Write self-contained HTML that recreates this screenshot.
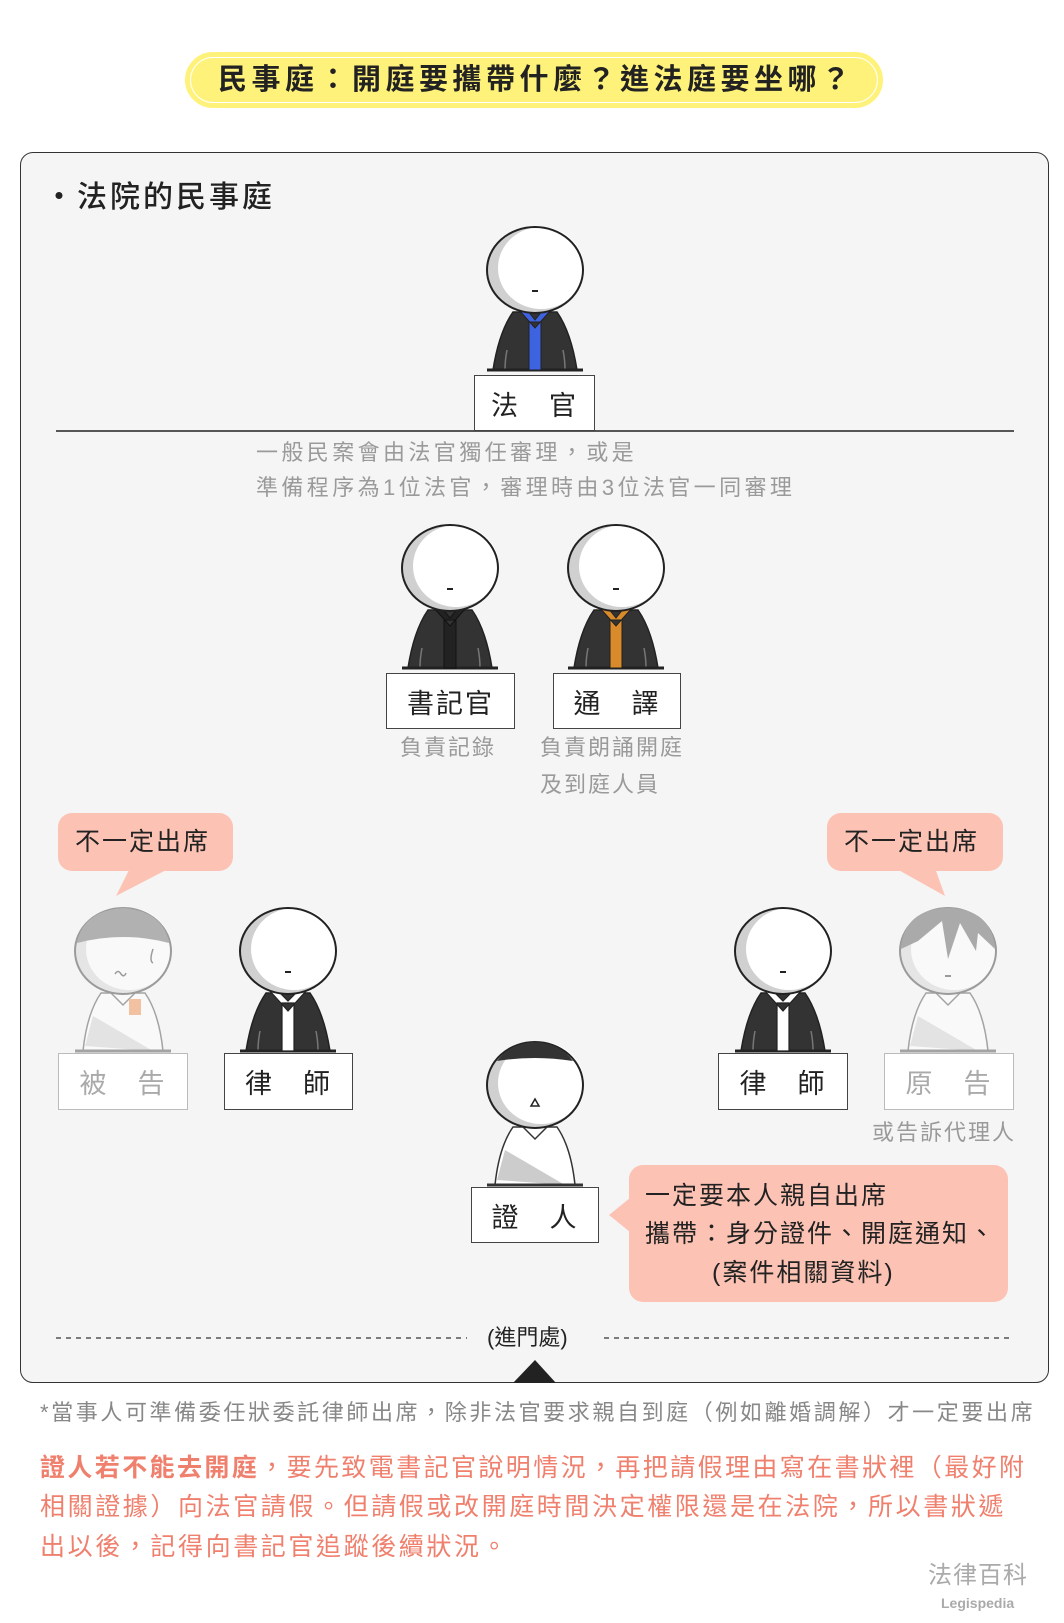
<!DOCTYPE html>
<html><head><meta charset="utf-8"><style>
*{margin:0;padding:0;box-sizing:border-box}
body{width:1064px;height:1623px;background:#fff;position:relative;overflow:hidden;font-family:"Liberation Sans","Noto Sans CJK TC",sans-serif;color:#222}
.a{position:absolute;white-space:nowrap}
.box{position:absolute;background:#fff;border:1.5px solid #444;font-size:27px;display:flex;align-items:center;justify-content:center;letter-spacing:2px}
.fade{border-color:#bbb;color:#aaa}
.bub{position:absolute;background:#fcc3b4;border-radius:14px}
.gray{color:#9a9a9a;font-size:22px;letter-spacing:2px}
</style></head><body>
<div class="a" style="left:185px;top:52px;width:698px;height:56px;border:5px solid #fff27a;border-radius:28px;background:#fff"></div>
<div class="a" style="left:191px;top:58px;width:686px;height:44px;border-radius:22px;background:#fff27a"></div>
<div class="a" style="left:218px;top:60px;font-size:29px;font-weight:bold;letter-spacing:4.5px;line-height:40px">民事庭：開庭要攜帶什麼？進法庭要坐哪？</div>

<div class="a" style="left:20px;top:152px;width:1029px;height:1231px;background:#f5f5f5;border:1.5px solid #333;border-radius:13px"></div>
<div class="a" style="left:44px;top:178px;font-size:30px;font-weight:500;letter-spacing:3px;line-height:40px">・法院的民事庭</div>

<svg class="a" style="left:0;top:0" width="1064" height="1623">
<defs>
<g id="head">
<ellipse cx="0" cy="0" rx="48" ry="43" fill="#d0d0d0"/>
<ellipse cx="6" cy="-2" rx="43" ry="41" fill="#fff"/>
<ellipse cx="0" cy="0" rx="48" ry="43" fill="none" stroke="#222" stroke-width="2"/>
</g>
<g id="robe">
<path d="M-22,42 L22,42 Q36,62 42,100 L-42,100 Q-36,62 -22,42Z" fill="#333" stroke="#222" stroke-width="1.5"/>
<path d="M-28,80 Q-30,90 -30,100 M28,80 Q30,90 30,100" stroke="#777" stroke-width="1.5" fill="none"/>
<line x1="-48" y1="100" x2="48" y2="100" stroke="#222" stroke-width="3"/>
</g>
<g id="shirt">
<path d="M-22,42 L22,42 Q36,62 40,100 L-40,100 Q-36,62 -22,42Z" fill="#fff" stroke="#333" stroke-width="1.5"/>
<path d="M-38,95 L-30,65 L30,100Z" fill="#ccc"/>
<path d="M-12,42 L0,54 L12,42" fill="none" stroke="#333" stroke-width="1.5"/>
<line x1="-48" y1="100" x2="48" y2="100" stroke="#333" stroke-width="3"/>
</g>
</defs>
<g transform="translate(535,270)"><use href="#robe"/>
<path d="M-16,40 L0,58 L16,40 L8,40 L0,50 L-8,40Z M-6,52 L6,52 L6,100 L-6,100Z" fill="#3e63e0" stroke="#222" stroke-width="1"/>
<use href="#head"/><line x1="-3" y1="21" x2="3" y2="21" stroke="#222" stroke-width="2"/></g>
<g transform="translate(450,568)"><use href="#robe"/>
<path d="M-16,40 L0,58 L16,40 L8,40 L0,50 L-8,40Z M-6,52 L6,52 L6,100 L-6,100Z" fill="#222" stroke="#111" stroke-width="1"/>
<use href="#head"/><line x1="-3" y1="21" x2="3" y2="21" stroke="#222" stroke-width="2"/></g>
<g transform="translate(616,568)"><use href="#robe"/>
<path d="M-16,40 L0,58 L16,40 L8,40 L0,50 L-8,40Z M-6,52 L6,52 L6,100 L-6,100Z" fill="#d98a2b" stroke="#222" stroke-width="1"/>
<use href="#head"/><line x1="-3" y1="21" x2="3" y2="21" stroke="#222" stroke-width="2"/></g>
<g transform="translate(288,951)"><use href="#robe"/>
<path d="M-18,40 L0,60 L18,40 L10,40 L0,50 L-10,40Z M-6,52 L6,52 L6,100 L-6,100Z" fill="#fff" stroke="#222" stroke-width="1.2"/>
<use href="#head"/><line x1="-3" y1="21" x2="3" y2="21" stroke="#222" stroke-width="2"/></g>
<g transform="translate(783,951)"><use href="#robe"/>
<path d="M-18,40 L0,60 L18,40 L10,40 L0,50 L-10,40Z M-6,52 L6,52 L6,100 L-6,100Z" fill="#fff" stroke="#222" stroke-width="1.2"/>
<use href="#head"/><line x1="-3" y1="21" x2="3" y2="21" stroke="#222" stroke-width="2"/></g>
<g transform="translate(123,951)" opacity="0.42"><use href="#shirt"/><use href="#head"/>
<path d="M-46,-8 Q-40,-40 0,-43 Q40,-40 46,-8 Q0,-20 -46,-8Z" fill="#555"/>
<rect x="6" y="48" width="12" height="16" fill="#f07a30"/>
<path d="M-8,23 Q-5,18 -2,23 Q1,27 3,22" stroke="#222" fill="none" stroke-width="1.5"/>
<path d="M30,-2 Q26,10 30,12" stroke="#222" fill="none" stroke-width="1.5"/></g>
<g transform="translate(948,951)" opacity="0.42"><use href="#shirt"/><use href="#head"/>
<path d="M-47,-2 Q-44,-42 0,-43 Q44,-42 47,-2 L30,-18 L28,0 L12,-28 L0,8 L-6,-30 L-30,-10 Z" fill="#444"/>
<line x1="-3" y1="25" x2="3" y2="25" stroke="#222" stroke-width="2"/></g>
<g transform="translate(535,1085)"><use href="#shirt"/><use href="#head"/>
<path d="M-38,-24 Q-25,-42 0,-43 Q25,-42 38,-24 Q0,-30 -38,-24Z" fill="#333"/>
<path d="M0,14 L-4,21 L4,21Z" fill="none" stroke="#222" stroke-width="1.5"/></g>

<line x1="56" y1="431" x2="1014" y2="431" stroke="#222" stroke-width="1.5"/>
<line x1="56" y1="1338" x2="467" y2="1338" stroke="#333" stroke-width="1.2" stroke-dasharray="5,5"/>
<line x1="604" y1="1338" x2="1014" y2="1338" stroke="#333" stroke-width="1.2" stroke-dasharray="5,5"/>
<path d="M535,1360 L556,1383 L513,1383Z" fill="#222"/>
<path d="M130,868 L170,868 L116,896Z" fill="#fcc3b4"/>
<path d="M895,868 L935,868 L945,896Z" fill="#fcc3b4"/>
<path d="M630,1198 L630,1232 L609,1215Z" fill="#fcc3b4"/>
</svg>

<div class="box" style="left:474px;top:375px;width:121px;height:56px">法　官</div>
<div class="a gray" style="left:256px;top:438px;line-height:30px;letter-spacing:3.4px">一般民案會由法官獨任審理，或是</div>
<div class="a gray" style="left:256px;top:473px;line-height:30px;letter-spacing:3.4px">準備程序為1位法官，審理時由3位法官一同審理</div>

<div class="box" style="left:386px;top:673px;width:129px;height:56px">書記官</div>
<div class="box" style="left:553px;top:673px;width:128px;height:56px">通　譯</div>
<div class="a gray" style="left:400px;top:733px;line-height:30px">負責記錄</div>
<div class="a gray" style="left:540px;top:733px;line-height:30px">負責朗誦開庭</div>
<div class="a gray" style="left:540px;top:770px;line-height:30px">及到庭人員</div>

<div class="bub" style="left:58px;top:813px;width:175px;height:58px"></div>
<div class="a" style="left:75px;top:826px;font-size:25px;letter-spacing:2px;line-height:32px">不一定出席</div>
<div class="bub" style="left:827px;top:813px;width:176px;height:58px"></div>
<div class="a" style="left:844px;top:826px;font-size:25px;letter-spacing:2px;line-height:32px">不一定出席</div>

<div class="box fade" style="left:58px;top:1053px;width:130px;height:57px">被　告</div>
<div class="box" style="left:224px;top:1053px;width:129px;height:57px">律　師</div>
<div class="box" style="left:718px;top:1053px;width:130px;height:57px">律　師</div>
<div class="box fade" style="left:884px;top:1053px;width:130px;height:57px">原　告</div>
<div class="a gray" style="left:872px;top:1118px;line-height:30px">或告訴代理人</div>

<div class="box" style="left:471px;top:1187px;width:128px;height:56px">證　人</div>
<div class="bub" style="left:629px;top:1165px;width:379px;height:137px"></div>
<div class="a" style="left:645px;top:1180px;font-size:25px;letter-spacing:2px;line-height:32px">一定要本人親自出席</div>
<div class="a" style="left:645px;top:1218px;font-size:25px;letter-spacing:2px;line-height:32px">攜帶：身分證件、開庭通知、</div>
<div class="a" style="left:712px;top:1257px;font-size:25px;letter-spacing:2px;line-height:32px">(案件相關資料)</div>

<div class="a" style="left:487px;top:1323px;font-size:22px;line-height:30px">(進門處)</div>

<div class="a" style="left:40px;top:1398px;font-size:22px;color:#888;letter-spacing:2.6px;line-height:30px">*當事人可準備委任狀委託律師出席，除非法官要求親自到庭（例如離婚調解）才一定要出席</div>

<div class="a" style="left:40px;top:1450px;font-size:25px;color:#f0806e;letter-spacing:2.4px;line-height:36px"><b>證人若不能去開庭</b>，要先致電書記官說明情況，再把請假理由寫在書狀裡（最好附</div>
<div class="a" style="left:40px;top:1489px;font-size:25px;color:#f0806e;letter-spacing:2.6px;line-height:36px">相關證據）向法官請假。但請假或改開庭時間決定權限還是在法院，所以書狀遞</div>
<div class="a" style="left:40px;top:1529px;font-size:25px;color:#f0806e;letter-spacing:2.6px;line-height:36px">出以後，記得向書記官追蹤後續狀況。</div>

<div class="a" style="left:928px;top:1561px;font-size:24px;color:#aaa;line-height:30px;letter-spacing:1px">法律百科</div>
<div class="a" style="left:941px;top:1594px;font-size:14px;color:#aaa;font-weight:bold;line-height:18px">Legispedia</div>
</body></html>
